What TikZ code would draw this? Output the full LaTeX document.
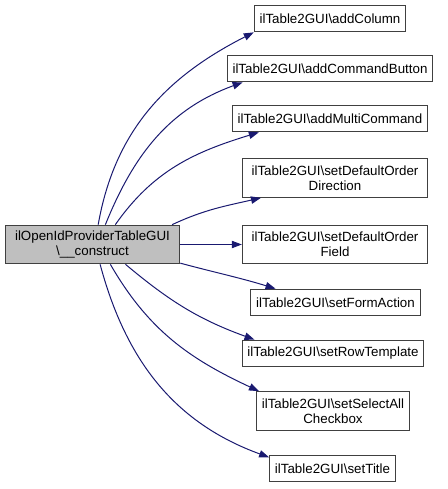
\documentclass[tikz,border=0pt]{standalone}
\usepackage{fontspec}
\setmainfont{Liberation Sans}
\usepackage{xcolor}
\definecolor{edgeblue}{HTML}{191970}
\definecolor{boxgray}{HTML}{BFBFBF}
\usetikzlibrary{positioning,arrows.meta}

\begin{document}
\begin{tikzpicture}[x=0.75pt,y=-0.75pt,
  fn/.style={draw=black!75,line width=0.75pt,fill=white,font=\fontsize{10}{11.5}\selectfont,
    inner xsep=4pt,inner ysep=2pt,minimum height=20pt,align=center},
  srcfn/.style={fn,fill=boxgray},
  call/.style={draw=edgeblue,line width=0.75pt,-{Triangle[length=7.5pt,width=5.5pt]}}]
\useasboundingbox (0,0) rectangle (448,489);

\node[srcfn,minimum width=131pt,minimum height=29pt] (ctor) at (92.5,244.5) {ilOpenIdProviderTableGUI\\\textbackslash\_\_construct};

\node[fn] (addcol) at (330,18.5) {ilTable2GUI\textbackslash addColumn};
\node[fn] (addcmd) at (330,68.5) {ilTable2GUI\textbackslash addCommandButton};
\node[fn] (addmulti) at (330,118.5) {ilTable2GUI\textbackslash addMultiCommand};
\node[fn,minimum height=29pt,minimum width=139pt] (orderdir) at (335,178) {ilTable2GUI\textbackslash setDefaultOrder\\Direction};
\node[fn,minimum height=29pt,minimum width=139pt] (orderfield) at (335,244.5) {ilTable2GUI\textbackslash setDefaultOrder\\Field};
\node[fn] (formaction) at (335.5,302.5) {ilTable2GUI\textbackslash setFormAction};
\node[fn] (rowtpl) at (333,353.5) {ilTable2GUI\textbackslash setRowTemplate};
\node[fn,minimum height=29pt] (selectall) at (333,411) {ilTable2GUI\textbackslash setSelectAll\\Checkbox};
\node[fn] (settitle) at (332.5,468.5) {ilTable2GUI\textbackslash setTitle};

% calls
\draw[call] (ctor.74) to[out=80,in=207] (addcol.south west);
\draw[call] (ctor.57) to[out=68,in=200] (addcmd.189);
\draw[call] (ctor.41) to[out=55,in=197] (addmulti.191);
\draw[call] (ctor.14) to[out=25,in=193] (orderdir.195);
\draw[call] (ctor.east) -- (orderfield.west);
\draw[call] (ctor.-12) to[out=-15,in=163] (formaction.167);
\draw[call] (ctor.-31) to[out=-40,in=160] (rowtpl.170);
\draw[call] (ctor.-48) to[out=-60,in=155] (selectall.165);
\draw[call] (ctor.-69) to[out=-75,in=160] (settitle.170);
\end{tikzpicture}
\end{document}
